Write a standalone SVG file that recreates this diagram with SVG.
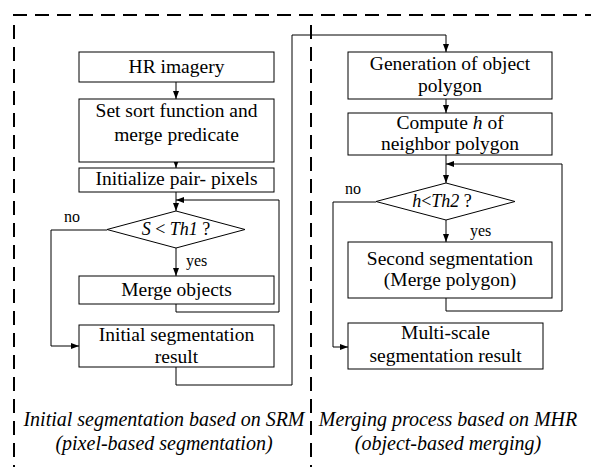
<svg xmlns="http://www.w3.org/2000/svg" width="595" height="467" viewBox="0 0 595 467">
<defs>
<marker id="ah" markerWidth="8" markerHeight="6" refX="8" refY="3" orient="auto" markerUnits="userSpaceOnUse">
<path d="M0,0 L8,3 L0,6 Z" fill="#000"/>
</marker>
</defs>
<style>
text{font-family:'Liberation Serif','Times New Roman',serif}
.box{fill:#fff;stroke:#000;stroke-width:1}
.t{font-size:19.5px;fill:#000;text-anchor:middle}
.q{font-size:18px;fill:#000;text-anchor:middle}
.s{font-size:16px;fill:#000}
.i{font-style:italic}
.c{fill:none;stroke:#000;stroke-width:1}
.d{fill:none;stroke:#000;stroke-width:2;stroke-dasharray:14 8}
.lab{font-size:20px;font-style:italic;fill:#000;text-anchor:middle}
</style>
<rect width="595" height="467" fill="#fff"/>
<g id="frame">
<line class="d" x1="13" y1="15" x2="591" y2="15"/>
<line class="d" x1="14" y1="25" x2="14" y2="467"/>
<line class="d" x1="311" y1="25" x2="311" y2="467"/>
</g>
<g id="connectors">
<line class="c" x1="176" y1="82" x2="176" y2="99" marker-end="url(#ah)"/>
<line class="c" x1="176" y1="162" x2="176" y2="168" marker-end="url(#ah)"/>
<line class="c" x1="176" y1="192" x2="176" y2="211" marker-end="url(#ah)"/>
<line class="c" x1="176" y1="248" x2="176" y2="276" marker-end="url(#ah)"/>
<polyline class="c" points="176,304 176,312 279,312 279,200 176,200" marker-end="url(#ah)"/>
<polyline class="c" points="107,230 51,230 51,346 79,346" marker-end="url(#ah)"/>
<polyline class="c" points="176,367 176,385 292,385 292,35 446,35 446,52" marker-end="url(#ah)"/>
<line class="c" x1="446" y1="99" x2="446" y2="113" marker-end="url(#ah)"/>
<line class="c" x1="446" y1="155" x2="446" y2="183" marker-end="url(#ah)"/>
<line class="c" x1="446" y1="220" x2="446" y2="242" marker-end="url(#ah)"/>
<polyline class="c" points="446,298 446,311 562,311 562,164 446,164" marker-end="url(#ah)"/>
<polyline class="c" points="376,202 333,202 333,347 348,347" marker-end="url(#ah)"/>
</g>
<g id="hr">
<rect class="box" x="79" y="52" width="195" height="30"/>
<text class="t" x="176.5" y="73">HR imagery</text>
</g>
<g id="setsort">
<rect class="box" x="79" y="99" width="195" height="63"/>
<text class="t" x="176.5" y="117">Set sort function and</text>
<text class="t" x="176.5" y="141">merge predicate</text>
</g>
<g id="init">
<rect class="box" x="79" y="168" width="195" height="24"/>
<text class="t" x="176.5" y="185">Initialize pair- pixels</text>
</g>
<g id="dec1">
<polygon class="box" points="176,211 245,229.5 176,248 107,229.5"/>
<text class="q" x="176" y="235"><tspan class="i">S</tspan> &lt; <tspan class="i">Th1</tspan> ?</text>
<text class="s" x="64" y="222">no</text>
<text class="s" x="186" y="266">yes</text>
</g>
<g id="merge">
<rect class="box" x="79" y="276" width="195" height="28"/>
<text class="t" x="176.5" y="296">Merge objects</text>
</g>
<g id="initres">
<rect class="box" x="79" y="325" width="195" height="42"/>
<text class="t" x="176.5" y="341">Initial segmentation</text>
<text class="t" x="176.5" y="363">result</text>
</g>
<g id="gen">
<rect class="box" x="348" y="52" width="204" height="47"/>
<text class="t" x="450" y="70">Generation of object</text>
<text class="t" x="450" y="92">polygon</text>
</g>
<g id="compute">
<rect class="box" x="348" y="113" width="204" height="42"/>
<text class="t" x="450" y="129">Compute <tspan class="i">h</tspan> of</text>
<text class="t" x="450" y="150">neighbor polygon</text>
</g>
<g id="dec2">
<polygon class="box" points="446,183 515,201.5 446,220 376,201.5"/>
<text class="q" x="442" y="207" font-size="19"><tspan class="i">h</tspan>&lt;<tspan class="i">Th2</tspan> ?</text>
<text class="s" x="345" y="194">no</text>
<text class="s" x="470" y="236">yes</text>
</g>
<g id="second">
<rect class="box" x="348" y="242" width="204" height="56"/>
<text class="t" x="450" y="265">Second segmentation</text>
<text class="t" x="450" y="286">(Merge polygon)</text>
</g>
<g id="multi">
<rect class="box" x="348" y="323" width="195" height="46"/>
<text class="t" x="445.5" y="339">Multi-scale</text>
<text class="t" x="445.5" y="362">segmentation result</text>
</g>
<g id="labels">
<text class="lab" x="164" y="426">Initial segmentation based on SRM</text>
<text class="lab" x="164" y="450">(pixel-based segmentation)</text>
<text class="lab" x="448" y="426">Merging process based on MHR</text>
<text class="lab" x="448" y="450">(object-based merging)</text>
</g>
</svg>
